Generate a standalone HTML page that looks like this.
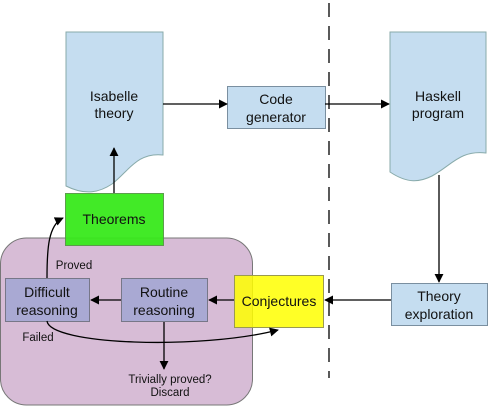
<!DOCTYPE html>
<html><head><style>
html,body{margin:0;padding:0;background:#fff;}
svg{display:block;}
text{font-family:"Liberation Sans",sans-serif;font-size:14px;fill:#111;text-anchor:middle;}
.s{font-size:11.5px;}
</style></head><body>
<svg width="489" height="407" viewBox="0 0 489 407">
<defs><marker id="a" viewBox="0 0 10 10" refX="9" refY="5" markerWidth="9" markerHeight="9" markerUnits="userSpaceOnUse" orient="auto"><path d="M0,0 L10,5 L0,10 z" fill="#000"/></marker></defs>
<rect x="0.5" y="238" width="252" height="167" rx="26" fill="#d7bcd6" stroke="#777"/>
<line x1="329" y1="3" x2="329" y2="378" stroke="#000" stroke-dasharray="14,9" stroke-width="1.3"/>
<path d="M66,32 H163 V155 C137,152 128,172 112,184 C100,192 86,196 66,186 Z" fill="#c5ddf0" stroke="#8aa"/>
<path d="M390,32 H486 V153 C460,150 452,165 432,176 C420,182 408,184 390,172 Z" fill="#c5ddf0" stroke="#8aa"/>
<text x="114" y="101">Isabelle</text><text x="114" y="118">theory</text>
<text x="438" y="101">Haskell</text><text x="438" y="118">program</text>
<rect x="227.5" y="86.5" width="98" height="42" fill="#c5ddf0" stroke="#7a8fa0"/>
<text x="276" y="104">Code</text><text x="276" y="122">generator</text>
<rect x="391.5" y="283.5" width="96" height="42" fill="#c5ddf0" stroke="#7a8fa0"/>
<text x="439" y="301">Theory</text><text x="439" y="319">exploration</text>
<rect x="65.5" y="193.5" width="98" height="52" fill="#38e91c" stroke="#559944" opacity="0.95"/>
<text x="114" y="224">Theorems</text>
<rect x="234.5" y="275.5" width="89" height="52" fill="#ffff00" fill-opacity="0.85" stroke="#9a9a50"/>
<text x="279" y="306">Conjectures</text>
<rect x="5.5" y="278.5" width="84" height="43" fill="#a9a9d3" stroke="#778"/>
<text x="47" y="297">Difficult</text><text x="47" y="315">reasoning</text>
<rect x="121.5" y="278.5" width="86" height="43" fill="#a9a9d3" stroke="#778"/>
<text x="164" y="297">Routine</text><text x="164" y="315">reasoning</text>
<g stroke="#000" stroke-width="1.3" fill="none" marker-end="url(#a)">
<line x1="114" y1="193" x2="114" y2="148"/>
<line x1="163" y1="104" x2="227" y2="104"/>
<line x1="325" y1="104" x2="389" y2="104"/>
<line x1="439" y1="175" x2="439" y2="282"/>
<line x1="391" y1="300" x2="325" y2="300"/>
<line x1="234" y1="300" x2="209" y2="300"/>
<line x1="121" y1="300" x2="91" y2="300"/>
<path d="M47,278 C47,250 48,225 63,218"/>
<path d="M47,321 C50,345 200,350 278,330"/>
<line x1="164" y1="322" x2="164" y2="369"/>
</g>
<text class="s" x="74" y="269">Proved</text>
<text class="s" x="38" y="341">Failed</text>
<text class="s" x="170" y="383">Trivially proved?</text>
<text class="s" x="170" y="396">Discard</text>
</svg>
</body></html>
